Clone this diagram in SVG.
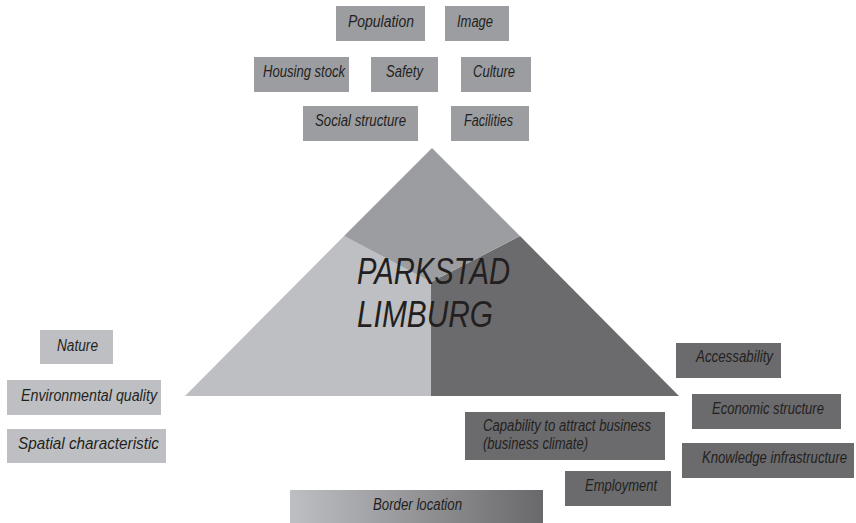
<svg xmlns="http://www.w3.org/2000/svg" width="856" height="523" viewBox="0 0 856 523">
  <style>
    text { font-family: "Liberation Sans", Arial, Helvetica, sans-serif; font-style: italic; fill: #231f20; }
    .lbl { font-size: 16px; }
    .title { font-size: 37px; }
    .mid { fill: #9c9da1; }
    .light { fill: #bebfc3; }
    .dark { fill: #6b6b6d; }
  </style>
  <defs>
    <linearGradient id="borderGrad" x1="0" y1="0" x2="1" y2="0">
      <stop offset="0" stop-color="#bebfc3"/>
      <stop offset="1" stop-color="#69696b"/>
    </linearGradient>
  </defs>

  <!-- central pyramid, split in three sectors -->
  <g id="pyramid">
    <polygon class="light" points="185,396 344,236 431,282 431,396"/>
    <polygon class="dark" points="431,396 431,282 520,236 679,396"/>
    <polygon class="mid" points="432,148 520,236 431,282 344,236"/>
    <text class="title" x="357" y="284" textLength="153" lengthAdjust="spacingAndGlyphs">PARKSTAD</text>
    <text class="title" x="357" y="327" textLength="136" lengthAdjust="spacingAndGlyphs">LIMBURG</text>
  </g>

  <!-- social factors (top) -->
  <g id="population"><rect class="mid" x="336" y="6" width="89" height="35"/><text class="lbl" x="348" y="27" textLength="66" lengthAdjust="spacingAndGlyphs">Population</text></g>
  <g id="image"><rect class="mid" x="445" y="6" width="64" height="35"/><text class="lbl" x="457" y="27" textLength="36" lengthAdjust="spacingAndGlyphs">Image</text></g>
  <g id="housing-stock"><rect class="mid" x="254" y="57" width="95" height="35"/><text class="lbl" x="263" y="77" textLength="82" lengthAdjust="spacingAndGlyphs">Housing stock</text></g>
  <g id="safety"><rect class="mid" x="371" y="57" width="67" height="35"/><text class="lbl" x="386" y="77" textLength="37" lengthAdjust="spacingAndGlyphs">Safety</text></g>
  <g id="culture"><rect class="mid" x="461" y="57" width="70" height="35"/><text class="lbl" x="473" y="77" textLength="42" lengthAdjust="spacingAndGlyphs">Culture</text></g>
  <g id="social-structure"><rect class="mid" x="303" y="106" width="115" height="35"/><text class="lbl" x="315" y="126" textLength="91" lengthAdjust="spacingAndGlyphs">Social structure</text></g>
  <g id="facilities"><rect class="mid" x="451" y="106" width="78" height="35"/><text class="lbl" x="464" y="126" textLength="49" lengthAdjust="spacingAndGlyphs">Facilities</text></g>

  <!-- environmental factors (left) -->
  <g id="nature"><rect class="light" x="40" y="330" width="73" height="34"/><text class="lbl" x="57" y="351" textLength="41" lengthAdjust="spacingAndGlyphs">Nature</text></g>
  <g id="environmental-quality"><rect class="light" x="7" y="380" width="154" height="35"/><text class="lbl" x="21" y="401" textLength="136" lengthAdjust="spacingAndGlyphs">Environmental quality</text></g>
  <g id="spatial-characteristic"><rect class="light" x="7" y="429" width="159" height="34"/><text class="lbl" x="18" y="449" textLength="141" lengthAdjust="spacingAndGlyphs">Spatial characteristic</text></g>

  <!-- economic factors (right) -->
  <g id="accessability"><rect class="dark" x="676" y="343" width="105" height="35"/><text class="lbl" x="696" y="362" textLength="77" lengthAdjust="spacingAndGlyphs">Accessability</text></g>
  <g id="economic-structure"><rect class="dark" x="692" y="394" width="149" height="35"/><text class="lbl" x="712" y="414" textLength="112" lengthAdjust="spacingAndGlyphs">Economic structure</text></g>
  <g id="business-climate"><rect class="dark" x="465" y="412" width="200" height="48"/><text class="lbl" x="483" y="431" textLength="168" lengthAdjust="spacingAndGlyphs">Capability to attract business</text><text class="lbl" x="483" y="449" textLength="105" lengthAdjust="spacingAndGlyphs">(business climate)</text></g>
  <g id="knowledge-infrastructure"><rect class="dark" x="682" y="443" width="172" height="35"/><text class="lbl" transform="translate(702,463) scale(0.82,1)">Knowledge infrastructure</text></g>
  <g id="employment"><rect class="dark" x="565" y="471" width="106" height="35"/><text class="lbl" x="585" y="491" textLength="72" lengthAdjust="spacingAndGlyphs">Employment</text></g>

  <!-- shared factor (bottom) -->
  <g id="border-location"><rect fill="url(#borderGrad)" x="290" y="490" width="253" height="33"/><text class="lbl" x="373" y="510" textLength="89" lengthAdjust="spacingAndGlyphs">Border location</text></g>

  <g id="connectors"/>
</svg>
